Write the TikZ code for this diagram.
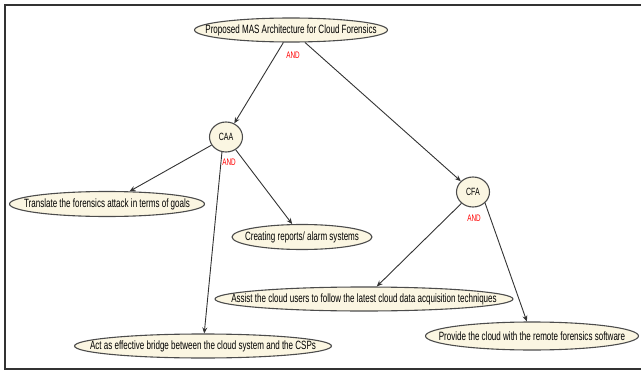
\documentclass[tikz,border=0pt]{standalone}
\usepackage{fontspec}
\setmainfont{Liberation Sans}[FakeStretch=0.67]
\usetikzlibrary{shapes,arrows.meta,positioning,fit}
\definecolor{goalfill}{RGB}{251,246,226}
\newcommand{\goaltxt}[1]{\makebox[0pt]{#1}}

\begin{document}
\begin{tikzpicture}[
        x=1pt, y=-1pt,
        >={Stealth[length=6pt,width=5pt]},
        goal/.style = {ellipse, draw=black!70, line width=1.1pt, fill=goalfill, inner sep=0pt, minimum height=24pt, font=\fontsize{12}{13}\selectfont},
        agent/.style = {goal, minimum width=33pt, minimum height=30pt, font=\fontsize{10.5}{11}\selectfont},
        andlabel/.style = {text=red, inner sep=0pt, font=\fontsize{9.5}{10}\selectfont},
        link/.style = {->, draw=black!80, line width=0.9pt}
    ]
    \useasboundingbox (0,0) rectangle (641,372);

    % frame
    \draw[black!80, line width=1.5pt] (641,5) -- (5,5) -- (5,369) -- (641,369);

    %nodes
    \node [goal, minimum width=193pt] (mas) at (291,30) {\goaltxt{Proposed MAS Architecture for Cloud Forensics}};
    \node [agent] (caa) at (226,137) {CAA};
    \node [agent] (cfa) at (473,192) {CFA};
    \node [goal, minimum width=195pt, minimum height=25pt] (goals) at (107,204) {\goaltxt{Translate the forensics attack in terms of goals}};
    \node [goal, minimum width=140pt, minimum height=25pt] (reports) at (302,237) {\goaltxt{Creating reports/ alarm systems}};
    \node [goal, minimum width=298pt] (assist) at (364,299) {\goaltxt{Assist the cloud users to follow the latest cloud data acquisition techniques}};
    \node [goal, minimum width=257pt] (bridge) at (203,346) {\goaltxt{Act as effective bridge between the cloud system and the CSPs}};
    \node [goal, minimum width=213pt, minimum height=28pt] (software) at (532,336) {\goaltxt{Provide the cloud with the remote forensics software}};

    % and labels
    \node [andlabel] (andmas) at (293,55) {AND};
    \node [andlabel] (andcaa) at (229,162) {AND};
    \node [andlabel] (andcfa) at (474,218) {AND};

    % links
    \path (mas) edge[link] (caa);
    \path (mas) edge[link] (cfa);
    \path (caa) edge[link] (goals);
    \path (caa) edge[link] (reports);
    \path (caa.255) edge[link] (bridge);
    \path (cfa) edge[link] (assist);
    \path (cfa.south east) edge[link] (software);

\end{tikzpicture}
\end{document}
